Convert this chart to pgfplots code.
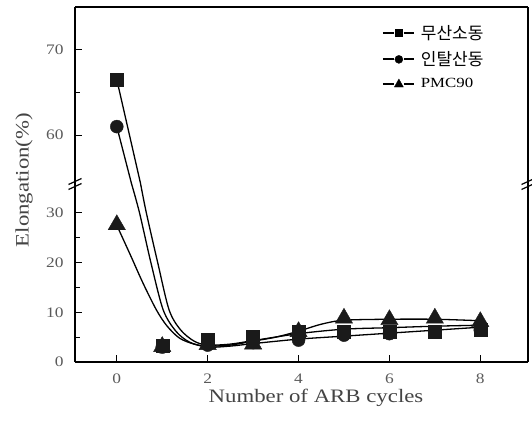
\documentclass[border=0pt]{standalone}
\usepackage{fontspec}
\setmainfont{Liberation Serif}[FakeStretch=1.2]
\newfontfamily\kr{Noto Sans CJK KR}
\usepackage{pgfplots}
\pgfplotsset{compat=1.18}
\definecolor{mk}{HTML}{1A1A1A}
\definecolor{tk}{HTML}{5A5A5A}
\definecolor{lb}{HTML}{444444}

\pgfplotsset{
  base/.style={
    scale only axis, width=453bp, xmin=-0.92, xmax=9.05,
    tick align=inside,
    axis line style={line width=1.6bp},
    major tick length=7bp, minor tick length=5bp,
    every tick/.style={line width=1.2bp, black},
    /pgf/number format/assume math mode=true,
    ticklabel style={font=\fontsize{14.5bp}{16bp}\selectfont, text=tk},
    yticklabel style={xshift=-8bp},
    xticklabel style={yshift=-8bp},
    clip=false,
  },
  fitline/.style={black, line width=1.3bp, smooth, tension=0.5, no marks, forget plot},
  sqm/.style={only marks, mark=square*, mark size=6.5bp, mark options={fill=mk, draw=mk}, forget plot},
  cim/.style={only marks, mark=*, mark size=6.5bp, mark options={fill=mk, draw=mk}, forget plot},
  trm/.style={only marks, mark=triangle*, mark size=10bp, mark options={fill=mk, draw=mk}, forget plot},
}

\begin{document}
\begin{tikzpicture}
\path[use as bounding box] (0,0) rectangle (532bp,427bp);

% ---------- lower panel ----------
\begin{axis}[base,
  at={(75bp,65bp)}, anchor=south west, height=179bp,
  ymin=0, ymax=36,
  axis x line*=bottom, axis y line*=box,
  ytick pos=left,
  xtick={0,2,4,6,8},
  ytick={0,10,20,30}, minor ytick={5,15,25},
  xlabel={Number of ARB cycles},
  xlabel style={at={(axis description cs:0.532,0)}, anchor=center, yshift=-36bp,
    font=\fontsize{19bp}{22bp}\selectfont, text=lb},
]
% markers
\addplot[trm] coordinates {(0,27.6) (1,3.1) (2,3.5) (3,3.6) (4,6.1) (5,8.8) (6,8.5) (7,8.8) (8,8.1)};
\addplot[sqm] coordinates {(1,3.2) (2,4.5) (3,5.0) (4,6.1) (5,6.0) (6,6.0) (7,6.1) (8,6.5)};
\addplot[cim] coordinates {(1,3.0) (2,3.4) (3,3.9) (4,4.4) (5,5.4) (6,5.7) (7,6.0) (8,6.4)};
% fitted curves
\addplot[fitline] coordinates {(0,27.5) (0.3,21.5) (0.58,15.8) (0.87,10.5) (1.1,7.3) (1.38,4.8) (1.7,3.6) (2,3.2) (2.5,3.4) (3,4.2) (3.5,5.0) (4,6.2) (4.5,7.6) (5,8.4) (6,8.6) (7,8.6) (8,8.3)};
\addplot[fitline] coordinates {(0.52,36) (0.65,30) (0.9,20) (1.15,10.5) (1.4,6.5) (1.7,4.2) (2,3.4) (2.5,3.6) (3,4.3) (4,5.7) (5,6.6) (6,6.9) (7,7.2) (8,7.4)};
\addplot[fitline] coordinates {(0.32,36) (0.5,30) (0.75,20) (1.02,10.5) (1.3,6.2) (1.6,4.0) (2,3.0) (2.5,3.2) (3,3.7) (4,4.6) (5,5.2) (6,5.8) (7,6.4) (8,7.0)};
% axis break marks
\draw[line width=1.2bp, shift={(rel axis cs:0,1)}] (-6.5bp,-1.5bp)--(6.5bp,4.5bp) (-6.5bp,-6.5bp)--(6.5bp,-0.5bp);
\draw[line width=1.2bp, shift={(rel axis cs:1,1)}] (-6.5bp,-1.5bp)--(6.5bp,4.5bp) (-6.5bp,-6.5bp)--(6.5bp,-0.5bp);
% y label spanning both panels
\node[rotate=90, anchor=center, font=\fontsize{19bp}{22bp}\selectfont, text=lb]
  at ([xshift=-51bp]rel axis cs:0,1.017) {Elongation(\%)};
\end{axis}

% ---------- upper panel ----------
\begin{axis}[base,
  at={(75bp,244bp)}, anchor=south west, height=176bp,
  ymin=54.4, ymax=75,
  axis x line*=top, axis y line*=box,
  ytick pos=left,
  xtick=\empty,
  ytick={60,70}, minor ytick={65},
  legend style={draw=none, fill=none, at={(axis description cs:0.677,0.91)}, anchor=north west,
    inner sep=0pt, row sep=7bp, font=\fontsize{14bp}{16bp}\selectfont,
    nodes={inner sep=2bp}},
  legend cell align=left,
]
\addlegendimage{legend image code/.code={
  \draw[line width=2bp] (0bp,0bp)--(11bp,0bp) (21bp,0bp)--(31bp,0bp);
  \fill (16bp,0bp) +(-3.6bp,-3.6bp) rectangle +(3.6bp,3.6bp);}}
\addlegendentry{\hspace{4bp}{\kr\fontsize{17bp}{18bp}\selectfont 무산소동}}
\addlegendimage{legend image code/.code={
  \draw[line width=2bp] (0bp,0bp)--(11bp,0bp) (21bp,0bp)--(31bp,0bp);
  \fill (16bp,0bp) circle (4bp);}}
\addlegendentry{\hspace{4bp}{\kr\fontsize{17bp}{18bp}\selectfont 인탈산동}}
\addlegendimage{legend image code/.code={
  \draw[line width=2bp] (0bp,0bp)--(11bp,0bp) (21bp,0bp)--(31bp,0bp);
  \fill (16bp,0bp) +(-4.5bp,-3.5bp) -- +(4.5bp,-3.5bp) -- +(0bp,4.5bp) -- cycle;}}
\addlegendentry{\hspace{4bp}PMC90}
\addplot[sqm] coordinates {(0,66.5)};
\addplot[cim] coordinates {(0,61.0)};
\addplot[fitline] coordinates {(0,66.5) (0.52,54.4)};
\addplot[fitline] coordinates {(0,61.0) (0.32,54.4)};
\end{axis}
\end{tikzpicture}
\end{document}
